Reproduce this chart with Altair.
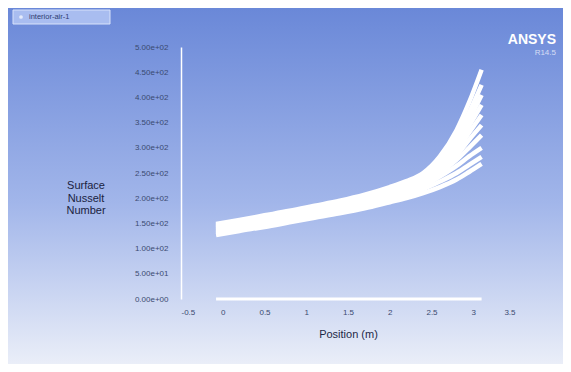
import altair as alt
import pandas as pd

# ---- data ----
positions = [-0.08, 0.2, 0.5, 0.8, 1.1, 1.4, 1.7, 2.0, 2.2, 2.4, 2.6, 2.8, 2.95, 3.1]
s1 = [149, 157, 166, 175, 185, 195, 207, 222, 234, 250, 283, 335, 390, 455]
s2 = [147, 155, 164, 173, 183, 193, 205, 220, 232, 247, 277, 322, 370, 425]
s3 = [145, 153, 162, 171, 181, 191, 203, 218, 229, 244, 272, 312, 356, 405]
s4 = [143, 151, 160, 169, 179, 189, 200, 215, 226, 241, 267, 303, 343, 385]
s5 = [141, 149, 158, 167, 176, 186, 198, 212, 223, 237, 261, 294, 330, 365]
s6 = [139, 147, 155, 164, 174, 184, 195, 209, 220, 234, 256, 285, 316, 345]
s7 = [136, 144, 152, 161, 171, 181, 192, 206, 216, 230, 250, 276, 300, 325]
s8 = [133, 141, 149, 158, 168, 178, 189, 202, 212, 225, 243, 264, 283, 300]
s9 = [130, 138, 146, 155, 165, 174, 185, 198, 207, 218, 233, 250, 266, 282]
s10 = [127, 135, 143, 152, 161, 170, 180, 192, 200, 210, 222, 237, 252, 268]
zero_positions = [-0.08, 3.1]
zero_values = [0, 0]

y_ticks = [0, 50, 100, 150, 200, 250, 300, 350, 400, 450, 500]
x_ticks = [-0.5, 0, 0.5, 1, 1.5, 2, 2.5, 3, 3.5]

legend_label = "interior-air-1"
y_title = ["Surface", "Nusselt", "Number"]
x_title = "Position (m)"

# ---- build tables ----
all_series = [s1, s2, s3, s4, s5, s6, s7, s8, s9, s10]
rows = []
for i, s in enumerate(all_series):
    for x, y in zip(positions, s):
        rows.append({"series": f"s{i+1}", "pos": x, "nu": y})
df = pd.DataFrame(rows)
zdf = pd.DataFrame({"pos": zero_positions, "nu": zero_values})

W, H = 334, 252
PL, PT, PR, PB = 173, 39, 48, 65
one = pd.DataFrame({"k": [0]})

grad = alt.Gradient(
    gradient="linear",
    stops=[
        alt.GradientStop(color="#6a88d8", offset=0),
        alt.GradientStop(color="#a2b6ea", offset=0.55),
        alt.GradientStop(color="#eaeef8", offset=1),
    ],
    x1=0, x2=0, y1=0, y2=1,
)

bg = alt.Chart(one).mark_rect(fill=grad).encode(
    x=alt.value(-PL), x2=alt.value(W + PR),
    y=alt.value(-PT), y2=alt.value(H + PB),
)

y_label_expr = ("datum.value == 0 ? '0.00e+00' : (datum.value < 100 ? "
                "format(datum.value / 10, '.2f') + 'e+01' : "
                "format(datum.value / 100, '.2f') + 'e+02')")

x_enc = alt.X("pos:Q",
              scale=alt.Scale(domain=[-0.5, 3.5], nice=False, zero=False),
              axis=alt.Axis(values=x_ticks, tickCount=len(x_ticks),
                            labelExpr="'' + datum.value", title=x_title,
                            domain=False, ticks=False, grid=False, zindex=2,
                            labelOverlap=False,
                            labelFont="Liberation Sans", labelFontSize=8,
                            labelColor="#3a4a70", labelPadding=9,
                            titleFont="Liberation Sans", titleFontSize=11,
                            titleFontWeight="normal", titleColor="#1e2846",
                            titlePadding=12))
y_enc = alt.Y("nu:Q",
              scale=alt.Scale(domain=[0, 500], nice=False),
              axis=alt.Axis(values=y_ticks, tickCount=len(y_ticks),
                            labelExpr=y_label_expr, title="",
                            domain=True, domainColor="white", domainWidth=1.5,
                            ticks=False, grid=False, zindex=2,
                            labelOverlap=False,
                            labelFont="Liberation Sans", labelFontSize=8,
                            labelColor="#3a4a70", labelPadding=13))

lines = alt.Chart(df).mark_line(color="white", strokeWidth=4.5, interpolate="monotone",
                                strokeCap="butt").encode(
    x=x_enc, y=y_enc, detail="series:N",
)
zero_line = alt.Chart(zdf).mark_line(color="white", strokeWidth=3).encode(
    x="pos:Q", y="nu:Q",
)

ytitle = alt.Chart(one).mark_text(
    text=y_title, font="Liberation Sans", fontSize=11, color="#1a2240",
    align="center", baseline="middle", lineHeight=12.5,
).encode(x=alt.value(-95), y=alt.value(139))

legend_box = alt.Chart(one).mark_rect(fill="#a9bdf0", stroke="#d8e2fa", strokeWidth=1).encode(
    x=alt.value(-168), x2=alt.value(-71), y=alt.value(-37), y2=alt.value(-23),
)
legend_dot = alt.Chart(one).mark_point(shape="circle", filled=True, color="white", size=14).encode(
    x=alt.value(-160), y=alt.value(-30),
)
legend_text = alt.Chart(one).mark_text(
    text=legend_label, font="Liberation Sans", fontSize=7.5, color="#2e3c70",
    align="left", baseline="middle",
).encode(x=alt.value(-152), y=alt.value(-30))

logo = alt.Chart(one).mark_text(
    text="ANSYS", font="Liberation Sans", fontSize=14, fontWeight="bold", color="white",
    align="right", baseline="middle",
).encode(x=alt.value(375), y=alt.value(-7))
logo2 = alt.Chart(one).mark_text(
    text="R14.5", font="Liberation Sans", fontSize=8, color="#d6def5",
    align="right", baseline="middle",
).encode(x=alt.value(375), y=alt.value(6))

chart = alt.layer(bg, lines, zero_line, ytitle, legend_box, legend_dot, legend_text,
                  logo, logo2).properties(
    width=W, height=H,
    autosize=alt.AutoSizeParams(type="none"),
    padding={"left": PL, "top": PT, "right": PR, "bottom": PB},
    background="white",
).configure_view(stroke=None)

chart.save("out.html", embed_options={"renderer": "svg", "actions": False})
